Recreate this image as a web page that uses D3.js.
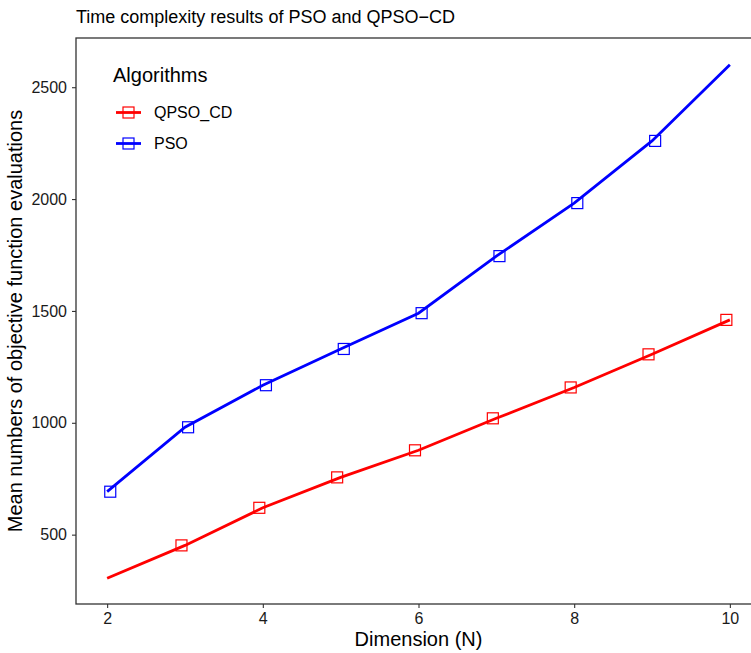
<!DOCTYPE html>
<html>
<head>
<meta charset='UTF-8'>
<title>Time complexity results of PSO and QPSO-CD</title>
<script src='https://d3js.org/d3.v7.min.js'></script>
<style>
  html, body { margin: 0; background: #fff; overflow: hidden; }
  svg { display: block; }
  text { font-family: 'Liberation Sans', Arial, sans-serif; }
</style>
</head>
<body>
<div id='graph'></div>
<script>
// data
var dims = [2, 3, 4, 5, 6, 7, 8, 9, 10];
var psoVals = [692, 980, 1168, 1330, 1490, 1745, 1982, 2260, 2600];
var qpsoVals = [305, 452, 620, 756, 877, 1020, 1158, 1306, 1460];
var seriesNames = ['QPSO_CD', 'PSO'];
var xTicks = [2, 4, 6, 8, 10];
var yTicks = [500, 1000, 1500, 2000, 2500];

var W = 751, H = 653;
var margin = {top: 38, right: -10, bottom: 49, left: 76};
var width = W - margin.left - margin.right;
var height = H - margin.top - margin.bottom;

var svg = d3.select('#graph').append('svg')
    .attr('width', W).attr('height', H);

var g = svg.append('g')
    .attr('transform', 'translate(' + margin.left + ',' + margin.top + ')');

var x = d3.scaleLinear().domain([1.6, 10.4]).range([0, width]);
var y = d3.scaleLinear().domain([190, 2720]).range([height, 0]);

var colors = {QPSO_CD: '#ff0000', PSO: '#0000ff'};
var series = [
    {name: 'QPSO_CD', vals: qpsoVals, marks: [1, 8], dx: -0.045},
    {name: 'PSO', vals: psoVals, marks: [0, 7], dx: 0.04}
];

// panel frame
g.append('rect')
    .attr('width', width).attr('height', height)
    .attr('fill', 'none').attr('stroke', '#333').attr('stroke-width', 1.3);

var line = d3.line()
    .x(function(d) { return x(d[0]); })
    .y(function(d) { return y(d[1]); });

series.forEach(function(s) {
    var pts = dims.map(function(d, i) { return [d, s.vals[i]]; });
    g.append('path')
        .datum(pts)
        .attr('d', line)
        .attr('fill', 'none')
        .attr('stroke', colors[s.name])
        .attr('stroke-width', 2.8);
    var mp = pts.slice(s.marks[0], s.marks[1] + 1);
    g.selectAll(null)
        .data(mp)
        .enter()
        .append('rect')
        .attr('x', function(d) { return x(d[0] + s.dx) - 5.5; })
        .attr('y', function(d) { return y(d[1]) - 5.5; })
        .attr('width', 11).attr('height', 11)
        .attr('fill', 'none')
        .attr('stroke', colors[s.name])
        .attr('stroke-width', 1.2);
});

// axes
var xAxis = g.append('g')
    .attr('transform', 'translate(0,' + height + ')')
    .call(d3.axisBottom(x).tickValues(xTicks).tickFormat(d3.format('d')).tickSize(4).tickPadding(5));
var yAxis = g.append('g')
    .call(d3.axisLeft(y).tickValues(yTicks).tickFormat(d3.format('d')).tickSize(4).tickPadding(5));
[xAxis, yAxis].forEach(function(a) {
    a.select('.domain').remove();
    a.selectAll('line').attr('stroke', '#333').attr('stroke-width', 1.1);
    a.selectAll('text')
        .style('font-size', '16px')
        .style('font-family', "'Liberation Sans', Arial, sans-serif")
        .attr('fill', '#1a1a1a');
});

// titles
svg.append('text')
    .attr('x', 76).attr('y', 23)
    .style('font-size', '18px')
    .text('Time complexity results of PSO and QPSO\u2212CD');

svg.append('text')
    .attr('x', margin.left + x(6)).attr('y', 646)
    .attr('text-anchor', 'middle')
    .style('font-size', '20px')
    .text('Dimension (N)');

svg.append('text')
    .attr('transform', 'translate(22,' + (margin.top + height / 2) + ') rotate(-90)')
    .attr('text-anchor', 'middle')
    .style('font-size', '20px')
    .text('Mean numbers of objective function evaluations');

// legend
var leg = svg.append('g').attr('transform', 'translate(113,0)');
leg.append('text')
    .attr('x', 0).attr('y', 82)
    .style('font-size', '20px')
    .text('Algorithms');

seriesNames.forEach(function(n, i) {
    var cy = 112.5 + i * 31;
    leg.append('line')
        .attr('x1', 3).attr('x2', 28)
        .attr('y1', cy).attr('y2', cy)
        .attr('stroke', colors[n]).attr('stroke-width', 2.8);
    leg.append('rect')
        .attr('x', 15.5 - 5.5).attr('y', cy - 5.5)
        .attr('width', 11).attr('height', 11)
        .attr('fill', 'none').attr('stroke', colors[n]).attr('stroke-width', 1.2);
    leg.append('text')
        .attr('x', 41).attr('y', cy + 5.5)
        .style('font-size', '16px')
        .text(n);
});
</script>
</body>
</html>
